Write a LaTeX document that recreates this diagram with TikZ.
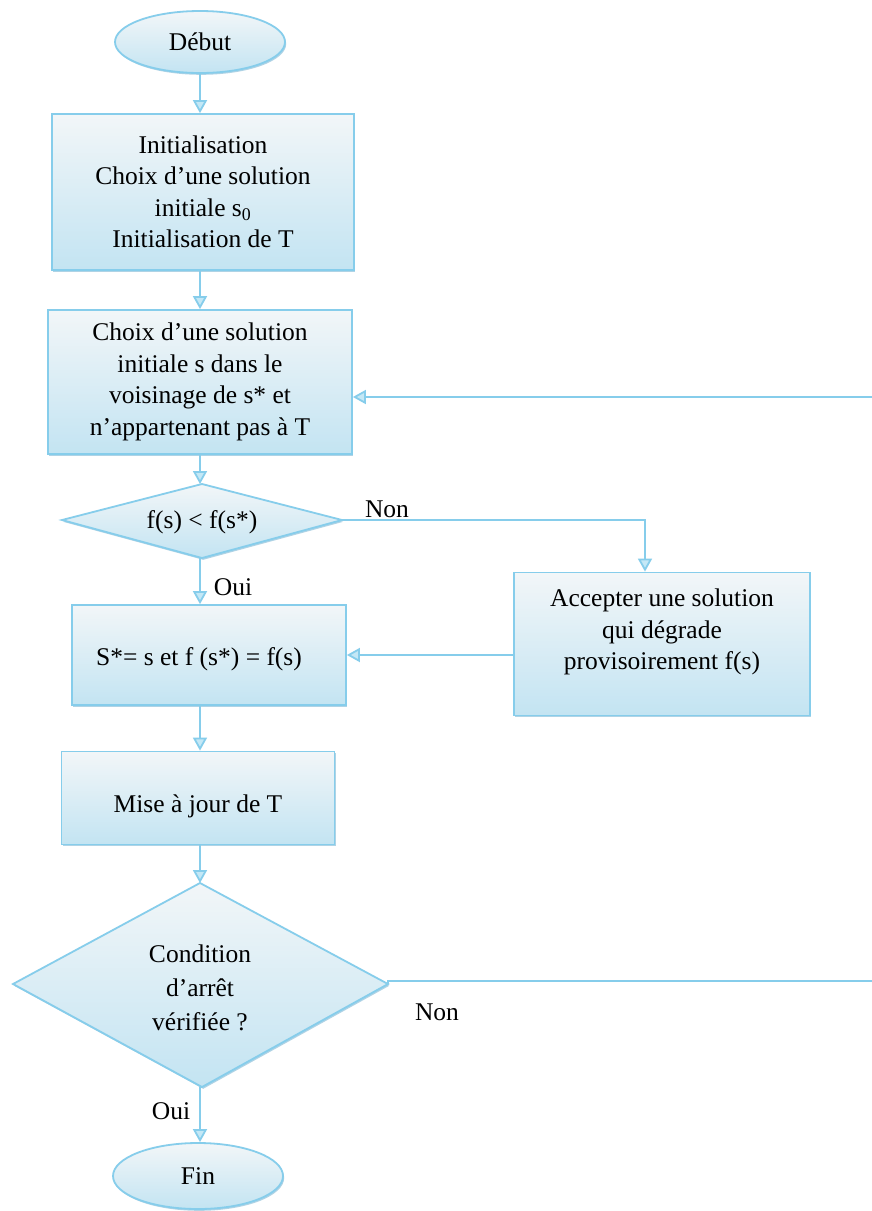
\documentclass[tikz,border=0pt]{standalone}
\usepackage{fontspec}
\setmainfont{Liberation Serif}
\usetikzlibrary{arrows.meta,shadows,calc,shapes.geometric}
\definecolor{edge}{HTML}{86CDEB}
\definecolor{filltop}{HTML}{F2F6F8}
\definecolor{fillbot}{HTML}{C3E4F2}
\definecolor{tipfill}{HTML}{C4E8F6}
\definecolor{shade}{HTML}{6FAFD0}
\tikzset{
  x=1pt, y=-1pt,
  every node/.style={font=\fontsize{25.5}{31.5}\selectfont, text=black},
  procbox/.style={draw=edge, line width=1.8pt, top color=filltop, bottom color=fillbot,
    align=center, inner sep=0pt,
    drop shadow={shadow xshift=1.2pt, shadow yshift=-1.8pt, fill=shade, opacity=0.55}},
  termbox/.style={procbox, ellipse},
  decfill/.style={draw=edge, line width=1.8pt, top color=filltop, bottom color=fillbot,
    drop shadow={shadow xshift=1.2pt, shadow yshift=-1.8pt, fill=shade, opacity=0.55}},
  plain/.style={align=center, inner sep=0pt},
  flow/.style={draw=edge, line width=1.8pt,
    -{Triangle[width=14pt,length=13pt,fill=tipfill]}},
  wire/.style={draw=edge, line width=1.8pt},
}
\begin{document}
\begin{tikzpicture}
\clip (0,0) rectangle (872,1211);
\fill[white] (0,0) rectangle (872,1211);

% terminals and process boxes
\node[termbox, minimum width=170pt, minimum height=62pt] (deb) at (200,42) {Début};
\node[procbox, minimum width=302pt, minimum height=156pt] (b1) at (203,192)
  {Initialisation\\Choix d’une solution\\initiale s\textsubscript{0}\\Initialisation de T};
\node[procbox, minimum width=304pt, minimum height=144pt] (b2) at (200,382)
  {Choix d’une solution\\initiale s dans le\\voisinage de s* et\\n’appartenant pas à T};
\node[procbox, minimum width=274pt, minimum height=100pt] (b3) at (209,655) {};
\node[plain] (b3t) at (199,659) {S*= s et f (s*) = f(s)};
\node[procbox, minimum width=296pt, minimum height=143pt] (b4) at (662,644) {};
\node[plain] (b4t) at (662,632) {Accepter une solution\\qui dégrade\\provisoirement f(s)};
\node[procbox, minimum width=273pt, minimum height=93pt] (b5) at (198,798) {};
\node[plain] (b5t) at (198,806) {Mise à jour de T};
\node[termbox, minimum width=170pt, minimum height=66pt] (fin) at (198,1176) {Fin};

% first decision
\coordinate (d1t) at (202,484);
\coordinate (d1r) at (342,520);
\coordinate (d1b) at (202,558);
\coordinate (d1l) at (62,520);
\path[decfill] (d1t) -- (d1r) -- (d1b) -- (d1l) -- cycle;
\node[plain] (d1) at (202,522) {f(s) < f(s*)};

% second decision
\coordinate (d2t) at (200,883);
\coordinate (d2r) at (388,984);
\coordinate (d2b) at (202,1087);
\coordinate (d2l) at (13,984);
\path[decfill] (d2t) -- (d2r) -- (d2b) -- (d2l) -- cycle;
\node[plain, font=\fontsize{25.5}{34}\selectfont] (d2) at (200,988) {Condition\\d’arrêt\\vérifiée ?};

% turning points
\coordinate (nonturn) at (645,520);
\coordinate (loopa) at (885,981);
\coordinate (loopb) at (885,397);

% main flow
\draw[flow] (deb.south) -- (deb.south |- b1.north);
\draw[flow] (b1.south -| deb.south) -- (deb.south |- b2.north);
\draw[flow] (b2.south -| deb.south) -- (d1t -| deb.south);
\draw[flow] (d1b -| deb.south) -- (deb.south |- b3.north);
\draw[flow] (b3.south -| deb.south) -- (deb.south |- b5.north);
\draw[flow] (b5.south -| deb.south) -- (d2t);
\draw[flow] (d2b -| deb.south) -- (deb.south |- fin.north);

% branches
\draw[flow] (d1r) -- (nonturn) -- (nonturn |- b4.north);
\draw[flow] (b4.west |- b3.east) -- (b3.east);
\draw[wire] (d2r) -- (d2r |- loopa) -- (loopa) -- (loopb);
\draw[flow] (loopb) -- (loopb -| b2.east);

% labels
\node[plain] (non1) at (387,509) {Non};
\node[plain] (oui1) at (233,587) {Oui};
\node[plain] (non2) at (437,1012) {Non};
\node[plain] (oui2) at (171,1111) {Oui};
\end{tikzpicture}
\end{document}
